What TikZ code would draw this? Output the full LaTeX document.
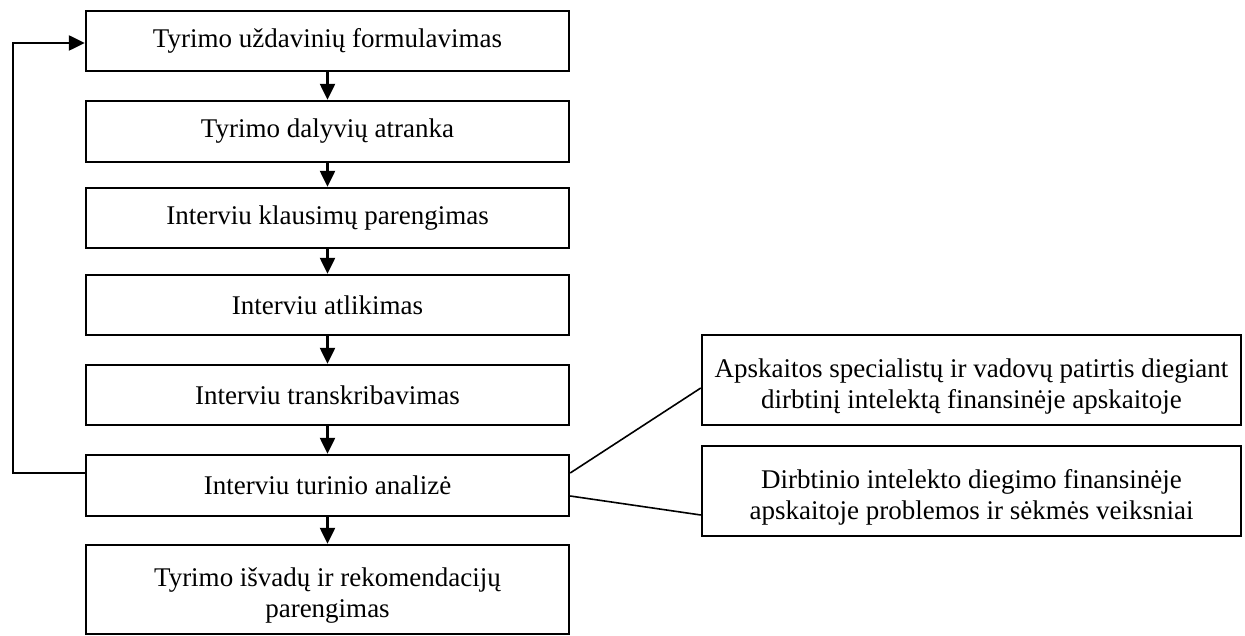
\documentclass[tikz,border=0pt]{standalone}
\usepackage{fontspec}
\setmainfont{Liberation Serif}
\usetikzlibrary{arrows.meta}

% taller first line, sets two-line labels a little low in their boxes
\newcommand{\lowstrut}{\rule{0pt}{31pt}}

\begin{document}
\begin{tikzpicture}[x=1pt,y=-1pt,
  stepbox/.style={draw, line width=2.4pt, minimum width=483pt, align=center,
    inner sep=0pt, font=\fontsize{27}{31}\selectfont},
  topicbox/.style={draw, line width=2.4pt, minimum width=539pt, minimum height=90pt,
    align=center, inner sep=0pt, font=\fontsize{27}{31}\selectfont},
  flow/.style={line width=2.4pt, -{Triangle[length=16pt,width=15pt]}},
  link/.style={line width=1.6pt}]
\useasboundingbox (0,0) rectangle (1245,636);

% main sequence of research steps
\node[stepbox, minimum height=60pt] (b1) at (327.5,41)    {Tyrimo uždavinių formulavimas};
\node[stepbox, minimum height=61pt] (b2) at (327.5,131.5) {Tyrimo dalyvių atranka};
\node[stepbox, minimum height=60pt] (b3) at (327.5,218)   {Interviu klausimų parengimas};
\node[stepbox, minimum height=60pt] (b4) at (327.5,305)   {Interviu atlikimas};
\node[stepbox, minimum height=60pt] (b5) at (327.5,395)   {Interviu transkribavimas};
\node[stepbox, minimum height=61pt] (b6) at (327.5,485.5) {Interviu turinio analizė};
\node[stepbox, minimum height=89pt] (b7) at (327.5,589.5) {\lowstrut Tyrimo išvadų ir rekomendacijų\\parengimas};

% analysis topics
\node[topicbox] (ra) at (971.5,380) {\lowstrut Apskaitos specialistų ir vadovų patirtis diegiant\\dirbtinį intelektą finansinėje apskaitoje};
\node[topicbox] (rb) at (971.5,491) {\lowstrut Dirbtinio intelekto diegimo finansinėje\\apskaitoje problemos ir sėkmės veiksniai};

% arrows between steps
\foreach \a/\b in {b1/b2,b2/b3,b3/b4,b4/b5,b5/b6,b6/b7}
  \draw[flow] (\a.south) -- (\b.north);

% feedback loop from the analysis back to the first step
\coordinate (loopL) at (13,473);
\draw[flow] ([yshift=12.5pt]b6.west) -- (loopL) |- ([yshift=-2pt]b1.west);

% links from the analysis to its topics
\draw[link] ([yshift=12.5pt]b6.east) -- ([yshift=-8pt]ra.west);
\draw[link] ([yshift=-10.5pt]b6.east) -- ([yshift=-24pt]rb.west);
\end{tikzpicture}
\end{document}
